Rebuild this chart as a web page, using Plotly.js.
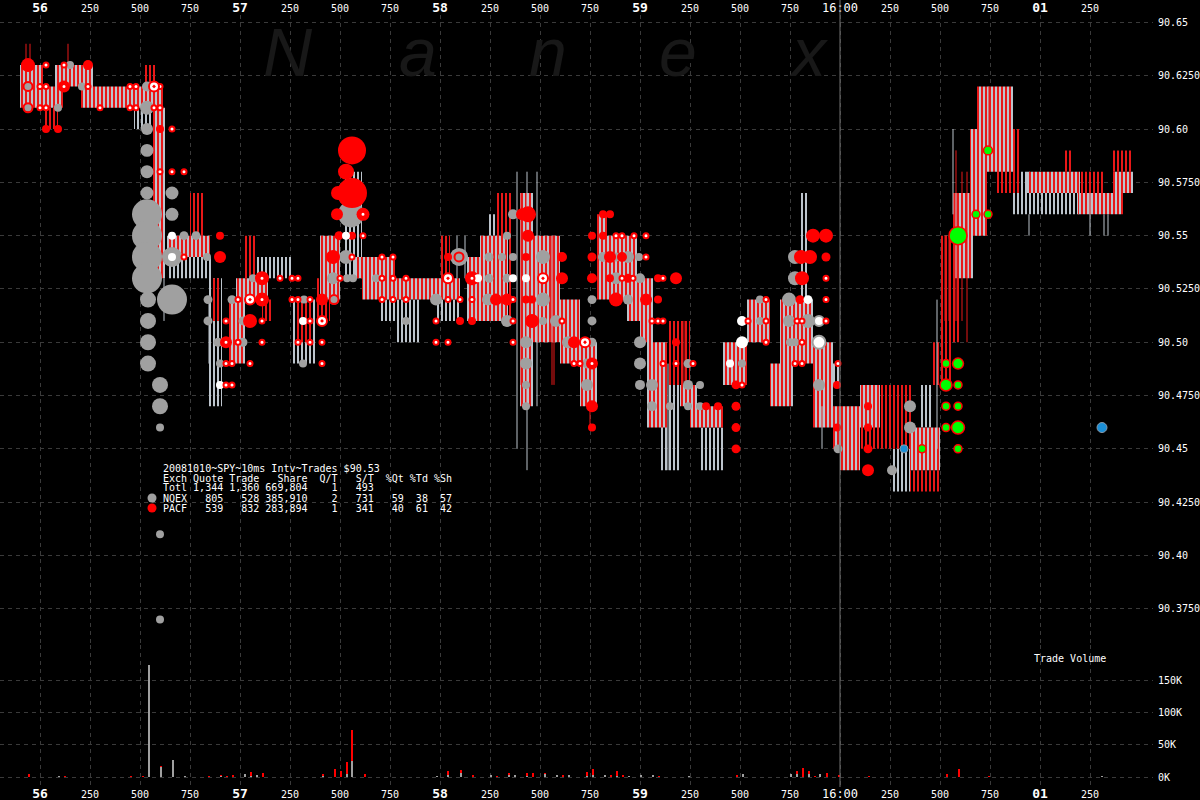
<!DOCTYPE html>
<html><head><meta charset="utf-8">
<script src="https://cdn.plot.ly/plotly-3.0.1.min.js"></script>
<style>html,body{margin:0;padding:0;background:#000}</style>
</head><body><div id="chart" style="width:1200px;height:800px"></div>
<script>
// ---- time axis: milliseconds after 15:59:56.000 ----
const timeTicks = [0,250,500,750,1000,1250,1500,1750,2000,2250,2500,2750,3000,3250,3500,3750,4000,4250,4500,4750,5000,5250];
const timeLabels = ['56','250','500','750','57','250','500','750','58','250','500','750','59','250','500','750','16:00','250','500','750','01','250'];
const majorTimeLabels = ['56','57','58','59','01'];
const priceTicks = [90.375,90.40,90.425,90.45,90.475,90.50,90.525,90.55,90.575,90.60,90.625,90.65];
const priceLabels = ['90.3750','90.40','90.4250','90.45','90.4750','90.50','90.5250','90.55','90.5750','90.60','90.6250','90.65'];
const volTicks = [0,50000,100000,150000];
const volLabels = ['0K','50K','100K','150K'];
const marketClose = 4000;

// ---- quote ranges [start ms, end ms, high, low, exchange B=both N=NQEX P=PACF] ----
const quoteBlocks = [
 [-100,15,90.63,90.61,'B'],[15,115,90.62,90.61,'B'],[15,90,90.61,90.60,'P'],[75,265,90.63,90.62,'B'],
 [205,615,90.62,90.61,'B'],[470,575,90.61,90.60,'N'],[515,575,90.63,90.62,'P'],[565,625,90.61,90.53,'B'],
 [635,850,90.55,90.54,'B'],[635,860,90.54,90.53,'N'],[750,825,90.57,90.55,'P'],[840,910,90.53,90.47,'N'],
 [865,900,90.53,90.51,'P'],[945,1025,90.52,90.49,'B'],[980,1140,90.53,90.52,'B'],[1025,1075,90.55,90.53,'P'],
 [1075,1260,90.54,90.53,'N'],[1110,1160,90.52,90.51,'P'],[1260,1380,90.52,90.49,'N'],[1275,1360,90.52,90.50,'P'],
 [1375,1450,90.53,90.51,'P'],[1400,1500,90.55,90.52,'B'],[1525,1610,90.58,90.53,'N'],[1575,1775,90.54,90.53,'B'],
 [1610,1900,90.53,90.52,'B'],[1700,1900,90.52,90.51,'N'],[1785,1900,90.51,90.50,'N'],[1890,2100,90.53,90.52,'B'],
 [1985,2100,90.52,90.51,'N'],[2000,2050,90.55,90.53,'P'],[2135,2235,90.54,90.51,'B'],[2200,2340,90.55,90.51,'B'],
 [2235,2340,90.56,90.55,'N'],[2285,2365,90.57,90.51,'P'],[2400,2465,90.57,90.47,'B'],[2465,2600,90.55,90.50,'B'],
 [2600,2700,90.52,90.49,'B'],[2700,2785,90.50,90.47,'B'],[2785,2835,90.56,90.53,'B'],[2785,2985,90.55,90.52,'B'],
 [2935,3065,90.53,90.51,'B'],[3000,3065,90.52,90.50,'B'],[3035,3135,90.50,90.46,'B'],[3100,3200,90.50,90.44,'N'],
 [3135,3250,90.51,90.48,'P'],[3200,3285,90.48,90.47,'B'],[3250,3415,90.47,90.46,'B'],[3300,3425,90.46,90.44,'N'],
 [3415,3535,90.50,90.48,'B'],[3535,3650,90.52,90.50,'B'],[3650,3765,90.49,90.47,'B'],[3700,3865,90.52,90.49,'B'],
 [3800,3840,90.57,90.52,'N'],[3865,3965,90.50,90.46,'B'],[3875,4000,90.49,90.48,'N'],[3965,4100,90.47,90.45,'B'],
 [4000,4100,90.45,90.44,'B'],[4100,4200,90.48,90.46,'B'],[4100,4365,90.48,90.45,'P'],[4265,4350,90.45,90.43,'N'],
 [4350,4500,90.46,90.44,'B'],[4350,4500,90.44,90.43,'P'],[4400,4465,90.48,90.46,'N'],[4465,4565,90.50,90.48,'P'],
 [4500,4600,90.55,90.50,'P'],[4515,4565,90.55,90.53,'N'],[4565,4665,90.57,90.53,'B'],[4650,4735,90.60,90.55,'B'],
 [4685,4865,90.62,90.58,'B'],[4785,4900,90.60,90.57,'P'],[4865,4950,90.58,90.56,'N'],[4935,5200,90.58,90.57,'B'],
 [4900,5200,90.57,90.56,'N'],[5200,5315,90.58,90.57,'P'],[5190,5415,90.57,90.56,'B'],[5365,5465,90.58,90.57,'B'],
 [5365,5465,90.59,90.58,'P'],[5115,5165,90.59,90.58,'P']
];
// single-interval quote spikes [ms, high, low, exchange]
const quoteSpikes = [
 [-70,90.64,90.63,'P'],[-50,90.64,90.63,'P'],[140,90.64,90.63,'P'],[620,90.53,90.51,'N'],[845,90.52,90.49,'N'],
 [2085,90.55,90.53,'N'],[2125,90.55,90.53,'N'],[2385,90.58,90.45,'N'],[2435,90.58,90.44,'N'],[2485,90.58,90.47,'N'],
 [2405,90.57,90.48,'P'],[2560,90.55,90.48,'P'],[2570,90.55,90.48,'P'],[2750,90.50,90.46,'P'],[3140,90.49,90.44,'N'],
 [3220,90.51,90.48,'P'],[3910,90.47,90.45,'N'],[4485,90.52,90.45,'N'],[4525,90.55,90.51,'P'],[4545,90.55,90.51,'P'],
 [4565,90.60,90.56,'N'],[4580,90.59,90.51,'P'],[4610,90.58,90.51,'P'],[4635,90.58,90.50,'P'],[4745,90.62,90.59,'P'],
 [4945,90.56,90.55,'N'],[5250,90.57,90.55,'N'],[5320,90.56,90.55,'N'],[5340,90.56,90.55,'N']
];

// ---- trades [ms, price, shares] ----
const nqexTrades = [
 [-60,90.62,1200],[-60,90.61,1200],[150,90.63,1200],[90,90.61,1200],[210,90.62,1200],
 [535,90.62,2500],[535,90.61,4900],[535,90.60,3600],[535,90.59,4200],[535,90.58,4200],
 [535,90.57,4200],[535,90.56,22500],[535,90.55,22500],[535,90.54,22500],[535,90.53,22500],
 [540,90.52,6400],[540,90.51,6400],[540,90.50,6400],[540,90.49,6400],[600,90.48,6400],
 [600,90.47,6400],[600,90.46,1200],[600,90.41,1200],[600,90.37,1200],[660,90.57,4200],
 [660,90.56,4200],[660,90.54,10000],[660,90.52,22500],[720,90.55,2000],[780,90.55,2000],
 [835,90.54,1200],[840,90.52,2000],[840,90.51,2000],[890,90.50,2000],[900,90.49,900],
 [960,90.52,2000],[1015,90.51,2000],[1015,90.50,2000],[1065,90.53,1600],[1320,90.52,900],
 [1315,90.49,900],[1465,90.53,3600],[1470,90.52,2500],[1530,90.54,4900],[1555,90.56,17000],
 [1535,90.53,900],[1565,90.53,900],[1680,90.53,1600],[1830,90.51,1200],[1980,90.52,3600],
 [2095,90.54,8100],[2245,90.54,2000],[2245,90.53,2000],[2240,90.52,3600],[2365,90.56,2500],
 [2335,90.55,1200],[2310,90.54,1600],[2365,90.54,1600],[2515,90.54,4900],[2335,90.53,2000],
 [2515,90.52,4900],[2335,90.51,3600],[2515,90.51,1200],[2580,90.51,3600],[2430,90.50,3600],
 [2430,90.49,3600],[2430,90.48,1600],[2430,90.47,1200],[2640,90.50,3600],[2760,90.50,2000],
 [2735,90.49,2500],[2735,90.48,3600],[2760,90.52,2000],[2760,90.51,2000],[2815,90.54,2500],
 [2880,90.54,2000],[2940,90.54,3600],[2995,90.54,1200],[2880,90.53,3600],[3000,90.53,2500],
 [2940,90.52,2500],[3000,90.50,3600],[3000,90.49,3600],[3240,90.49,2000],[3000,90.48,2500],
 [3060,90.48,3600],[3240,90.48,2500],[3300,90.48,1200],[3060,90.47,2500],[3150,90.47,1200],
 [3240,90.47,1200],[3300,90.47,1200],[3510,90.49,1200],[3600,90.52,1200],[3600,90.51,1200],
 [3745,90.52,4900],[3745,90.51,3600],[3840,90.51,4900],[3750,90.50,1200],[3775,90.50,1200],
 [3775,90.54,4900],[3775,90.53,4900],[3895,90.48,3600],[3990,90.45,2000],[4260,90.44,2500],
 [4350,90.47,3600],[4350,90.46,3600]
];
const pacfTrades = [
 [-60,90.63,4900],[30,90.60,1600],[90,90.60,900],[120,90.62,3600],[240,90.63,2500],
 [600,90.60,1600],[900,90.55,900],[900,90.54,3600],[1050,90.51,4900],[1110,90.53,4900],
 [1110,90.52,4900],[930,90.50,3600],[1410,90.52,3600],[1465,90.54,4900],[1485,90.56,3600],
 [1495,90.55,2000],[1560,90.55,1200],[1530,90.58,6400],[1560,90.59,19600],[1560,90.57,22500],
 [1490,90.57,4900],[1615,90.56,4200],[2040,90.54,1600],[2160,90.53,4900],[2100,90.51,1600],
 [2160,90.51,1600],[2280,90.52,3600],[2335,90.52,3600],[2440,90.56,6400],[2410,90.56,3600],
 [2440,90.55,3600],[2430,90.54,1600],[2610,90.54,2500],[2610,90.53,3600],[2430,90.52,1600],
 [2460,90.52,1600],[2460,90.51,4900],[2670,90.50,3600],[2760,90.49,3600],[2760,90.47,3600],
 [2760,90.46,1600],[2760,90.55,1600],[2760,90.54,2000],[2760,90.53,2500],[2815,90.56,1200],
 [2850,90.56,1200],[2815,90.55,900],[2850,90.54,3600],[2910,90.54,2500],[2850,90.53,1600],
 [2940,90.53,2000],[3090,90.53,900],[3180,90.53,3600],[2880,90.52,4900],[3030,90.52,3600],
 [3090,90.52,1600],[3180,90.50,900],[3330,90.47,900],[3390,90.47,900],[3480,90.48,2000],
 [3480,90.47,2000],[3480,90.46,2000],[3480,90.45,2000],[3800,90.52,2000],[3810,90.53,4900],
 [3805,90.54,4900],[3850,90.54,4900],[3930,90.54,2000],[3865,90.55,4900],[3930,90.55,4900],
 [3985,90.48,1200],[3985,90.46,1200],[4140,90.47,900],[4140,90.46,900],[4140,90.45,2000],
 [4140,90.44,3600]
];
// small PACF prints shown white with red rim [ms, price]
const pacfSmallPrints = [
 [30,90.63],[120,90.63],[0,90.62],[30,90.62],[120,90.62],[240,90.62],[450,90.62],[480,90.62],[600,90.62],
 [0,90.61],[30,90.61],[300,90.61],[450,90.61],[480,90.61],[570,90.61],[600,90.61],
 [660,90.60],[600,90.58],[660,90.58],[720,90.58],[720,90.54],
 [990,90.52],[930,90.51],[1110,90.51],[990,90.50],[1110,90.50],[1290,90.50],[1350,90.50],[1410,90.50],
 [930,90.49],[960,90.49],[1050,90.49],[1410,90.49],[930,90.48],[960,90.48],
 [1200,90.53],[1260,90.53],[1290,90.53],[1110,90.53],[1260,90.52],[1290,90.52],[1350,90.52],[1110,90.52],[1350,90.51],[930,90.50],
 [1500,90.53],[1560,90.54],[1615,90.55],[1615,90.56],
 [1710,90.54],[1765,90.54],[1710,90.53],[1765,90.53],[1830,90.53],[1710,90.52],[1765,90.52],[1830,90.52],
 [2040,90.52],[2100,90.52],[2160,90.52],[1980,90.51],[1980,90.50],[2040,90.50],[2160,90.53],
 [2365,90.52],[2365,90.51],[2365,90.50],[2610,90.51],[2670,90.49],[2700,90.49],[2760,90.49],
 [2880,90.55],[2910,90.55],[2970,90.55],[3030,90.55],[3030,90.54],[2910,90.53],[2965,90.53],[3115,90.53],
 [3060,90.51],[3090,90.51],[3115,90.51],[3115,90.49],[3180,90.49],[3265,90.49],[3510,90.48],[3540,90.51],
 [3630,90.52],[3630,90.51],[3630,90.50],[3930,90.53],[3930,90.52],[3930,90.51],[3785,90.51],[3810,90.51],
 [3810,90.50],[3775,90.49],[3810,90.49],[3990,90.49]
];
const pacfBullseyes = [[570,90.62],[1050,90.52],[1410,90.51],[2040,90.53],[2515,90.53],[2725,90.50]];
const pacfRings = [[2095,90.54],[1470,90.52],[-60,90.62],[-60,90.61]];
const whiteTrades = [
 [660,90.55,900],[660,90.54,900],[900,90.48,1600],[1315,90.51,1200],[1530,90.55,1200],[2190,90.53,1200],
 [2365,90.53,1200],[2430,90.53,1200],[3450,90.49,1200],[3510,90.51,2500],[3510,90.50,3600],[3840,90.52,2000]
];
const whiteRimTrades = [[3895,90.51,2500],[3895,90.50,4200]];
const afterCloseTrades = [
 [4530,90.49,1600],[4590,90.49,3000],[4530,90.48,3600],[4590,90.48,1600],[4530,90.47,1600],[4590,90.47,1600],
 [4530,90.46,1600],[4590,90.46,4200],[4590,90.45,1600],[4590,90.55,8100],[4680,90.56,1600],[4740,90.56,1600],
 [4740,90.59,2000],[4410,90.45,900]
];
const otherTrades = [[5310,90.46,2500],[4320,90.45,600]];

// ---- trade volume bars [ms, NQEX shares, PACF shares] ----
const volumeBars = [
 [-55,0,4700],[5,0,500],[35,0,500],[95,1000,0],[125,0,1500],[155,500,0],[215,500,0],[245,0,500],[305,0,500],[455,0,1500],
 [485,0,500],[515,0,1500],[545,174000,0],[575,0,500],[605,15000,2000],[665,26000,0],[725,1500,0],[785,500,0],[845,0,1000],[905,1000,1500],
 [935,0,1500],[965,500,3000],[995,0,500],[1025,4600,0],[1055,1500,6000],[1085,3000,0],[1115,0,6000],[1200,0,500],[1265,500,0],[1295,0,500],
 [1325,500,0],[1355,0,500],[1415,1500,3000],[1475,0,12400],[1505,0,9000],[1535,4600,18600],[1562,24800,48000],[1625,0,4600],[1685,500,0],[1715,0,500],
 [1775,500,0],[1830,500,0],[1985,1500,0],[2042,3000,6000],[2105,6000,4600],[2165,0,3000],[2195,500,0],[2255,3000,0],[2285,0,1500],[2315,500,0],
 [2345,3000,3000],[2375,3000,0],[2435,1000,4600],[2465,0,6000],[2525,4600,1500],[2585,3000,0],[2615,0,3000],[2645,3000,0],[2675,0,500],[2705,0,500],
 [2735,1500,6000],[2765,3000,9000],[2823,3000,0],[2855,0,3000],[2885,1000,7700],[2915,0,3000],[2945,1500,0],[2975,0,500],[3005,3000,0],[3035,0,500],
 [3065,3000,0],[3095,0,1500],[3125,0,500],[3155,500,0],[3185,0,500],[3245,1500,0],[3275,0,500],[3305,500,0],[3335,500,0],[3395,0,500],
 [3455,500,0],[3485,0,3000],[3515,4600,0],[3545,0,500],[3605,500,0],[3635,0,500],[3665,500,0],[3725,0,500],[3755,4600,0],[3785,4600,4600],
 [3815,0,14000],[3845,4600,4600],[3875,0,1500],[3900,4600,0],[3935,0,6200],[3995,0,3000],[4145,0,1500],[4265,500,0],[4325,0,500],[4355,500,0],
 [4415,0,500],[4535,0,4600],[4593,0,12400],[4685,0,500],[4745,0,1500],[5312,1500,0]
];

const legendLines = [
 '20081010~SPY~10ms Intv~Trades $90.53',
 'Exch Quote Trade   Share  Q/T   S/T  %Qt %Td %Sh',
 'Totl 1,344 1,360 669,804    1   493',
 'NQEX   805   528 385,910    2   731   59  38  57',
 'PACF   539   832 283,894    1   341   40  61  42'
];

// ---------------- drawing ----------------
const W = 1200, H = 800, M = {l:0, r:47, t:15, b:13};
const PW = W - M.l - M.r, PH = H - M.t - M.b;
const px2x = px => (px - M.l) / PW;
const px2y = py => (H - M.b - py) / PH;
const volTop = px2y(645);
const GREY = '#a0a0a0', RED = '#ff0000', STRIPE_GREY = '#bcc4cc', STRIPE_RED = '#e81818';
const MONO = 'DejaVu Sans Mono';

function blockTrace(kind, pattern) {
  const xs = [], ys = [];
  quoteBlocks.forEach(b => {
    if (b[4] !== kind) return;
    xs.push(b[0], b[1], b[1], b[0], b[0], null);
    ys.push(b[3], b[3], b[2], b[2], b[3], null);
  });
  return {type:'scatter', mode:'lines', x:xs, y:ys, fill:'toself', line:{width:0, color:'rgba(0,0,0,0)'},
          fillcolor:'rgba(0,0,0,0)', fillpattern:pattern, hoverinfo:'skip', xaxis:'x', yaxis:'y'};
}
function spikeTrace(kind, color) {
  const xs = [], ys = [];
  quoteSpikes.forEach(s => { if (s[3] === kind) { xs.push(s[0], s[0], null); ys.push(s[2], s[1], null); } });
  return {type:'scatter', mode:'lines', x:xs, y:ys, line:{width:1, color:color}, hoverinfo:'skip', xaxis:'x', yaxis:'y'};
}
function bubble(rows, marker) {
  return {type:'scatter', mode:'markers', x:rows.map(r => r[0]), y:rows.map(r => r[1]),
          marker:Object.assign({size:rows.map(r => r[2]), sizemode:'area', sizeref:50, sizemin:4, opacity:1, line:{width:0}}, marker),
          hoverinfo:'skip', xaxis:'x', yaxis:'y'};
}
function fixed(rows, marker) {
  return {type:'scatter', mode:'markers', x:rows.map(r => r[0]), y:rows.map(r => r[1]),
          marker:Object.assign({opacity:1}, marker), hoverinfo:'skip', xaxis:'x', yaxis:'y'};
}

const traces = [
  blockTrace('N', {shape:'|', size:4, solidity:0.5, fgcolor:STRIPE_GREY, bgcolor:'rgba(0,0,0,0)', fillmode:'replace'}),
  blockTrace('B', {shape:'|', size:4, solidity:0.5, fgcolor:STRIPE_RED, bgcolor:STRIPE_GREY, fillmode:'replace'}),
  blockTrace('P', {shape:'|', size:4, solidity:0.5, fgcolor:STRIPE_RED, bgcolor:'rgba(0,0,0,0)', fillmode:'replace'}),
  spikeTrace('N', STRIPE_GREY),
  spikeTrace('P', STRIPE_RED),
  bubble(nqexTrades, {color:GREY}),
  bubble(pacfTrades, {color:RED}),
  bubble(whiteTrades, {color:'#ffffff'}),
  bubble(whiteRimTrades, {color:'#ffffff', line:{color:GREY, width:2}}),
  fixed(pacfRings, {symbol:'circle-open', size:9, color:RED, line:{width:2}}),
  fixed(pacfSmallPrints, {size:5, color:'#ffffff', line:{color:RED, width:2}}),
  fixed(pacfBullseyes, {symbol:'circle-dot', size:10, color:'#ffffff', line:{color:RED, width:2}}),
  bubble(afterCloseTrades, {color:'#00ff00', line:{color:RED, width:1.5}}),
  bubble(otherTrades, {color:'#1b8fd6', line:{color:'#8899aa', width:1}}),
  {type:'bar', x:volumeBars.map(v => v[0]), y:volumeBars.map(v => v[1]), width:10,
   marker:{color:GREY, line:{width:0}}, hoverinfo:'skip', xaxis:'x2', yaxis:'y2'},
  {type:'bar', x:volumeBars.map(v => v[0]), y:volumeBars.map(v => v[2]), width:10,
   marker:{color:RED, line:{width:0}}, hoverinfo:'skip', xaxis:'x2', yaxis:'y2'}
];

const tickText = timeLabels.map(s => majorTimeLabels.includes(s)
  ? '<span style="font-size:13px"><b>' + s + '</b></span>'
  : (s === '16:00' ? '<span style="font-size:12px">' + s + '</span>' : s));

const gridCommon = {showgrid:true, gridcolor:'#3a3a3a', gridwidth:1, griddash:'4px,4px', zeroline:false,
                    showline:false, ticks:'', fixedrange:true, tickfont:{family:MONO, size:10, color:'#ffffff'}};
const xDomain = [0, 1];
const xRange = [-200, 5565];

const annotations = [];
legendLines.forEach((line, i) => {
  annotations.push({xref:'paper', yref:'paper', x:px2x(161), y:px2y(468 + 10*i), xanchor:'left', yanchor:'middle',
    text:line.replace(/ /g, '&nbsp;'), showarrow:false, font:{family:MONO, size:10, color:'#ffffff'}});
});
annotations.push({xref:'paper', yref:'paper', x:px2x(1032), y:px2y(658), xanchor:'left', yanchor:'middle',
  text:'Trade&nbsp;Volume', showarrow:false, font:{family:MONO, size:10, color:'#ffffff'}});
['N','a','n','e','x'].forEach((ch, i) => {
  annotations.push({xref:'paper', yref:'paper', x:px2x(288 + 130*i), y:px2y(52), text:ch, showarrow:false,
    xanchor:'center', yanchor:'middle', font:{family:'Liberation Sans', size:68, color:'#181818', style:'italic'}});
});

// legend swatches for the two exchanges
const swatch = (cy, color) => ({type:'circle', xref:'paper', yref:'paper',
  x0:px2x(147.5), x1:px2x(156.5), y0:px2y(cy + 4.5), y1:px2y(cy - 4.5),
  fillcolor:color, line:{width:0}});

const layout = {
  width:W, height:H, margin:M, paper_bgcolor:'#000000', plot_bgcolor:'#000000',
  showlegend:false, hovermode:false, barmode:'stack', dragmode:false,
  xaxis:Object.assign({}, gridCommon, {domain:xDomain, range:xRange, anchor:'y', side:'top',
    tickmode:'array', tickvals:timeTicks, ticktext:tickText}),
  yaxis:Object.assign({}, gridCommon, {domain:[volTop, 1], range:[90.3580, 90.6535], side:'right',
    tickmode:'array', tickvals:priceTicks, ticktext:priceLabels, anchor:'x', ticklabelstandoff:4}),
  xaxis2:Object.assign({}, gridCommon, {domain:xDomain, range:xRange, anchor:'y2', side:'bottom',
    tickmode:'array', tickvals:timeTicks, ticktext:tickText}),
  yaxis2:Object.assign({}, gridCommon, {domain:[0, volTop], range:[-15500, 205000], side:'right',
    tickmode:'array', tickvals:volTicks, ticktext:volLabels, anchor:'x2', ticklabelstandoff:4}),
  shapes:[{type:'line', xref:'x', yref:'paper', x0:marketClose, x1:marketClose, y0:0, y1:1.02,
    line:{color:'#707070', width:1}}, swatch(498, GREY), swatch(508, RED)],
  annotations:annotations
};

Plotly.newPlot('chart', traces, layout, {staticPlot:true, displayModeBar:false});
</script>
</body></html>
